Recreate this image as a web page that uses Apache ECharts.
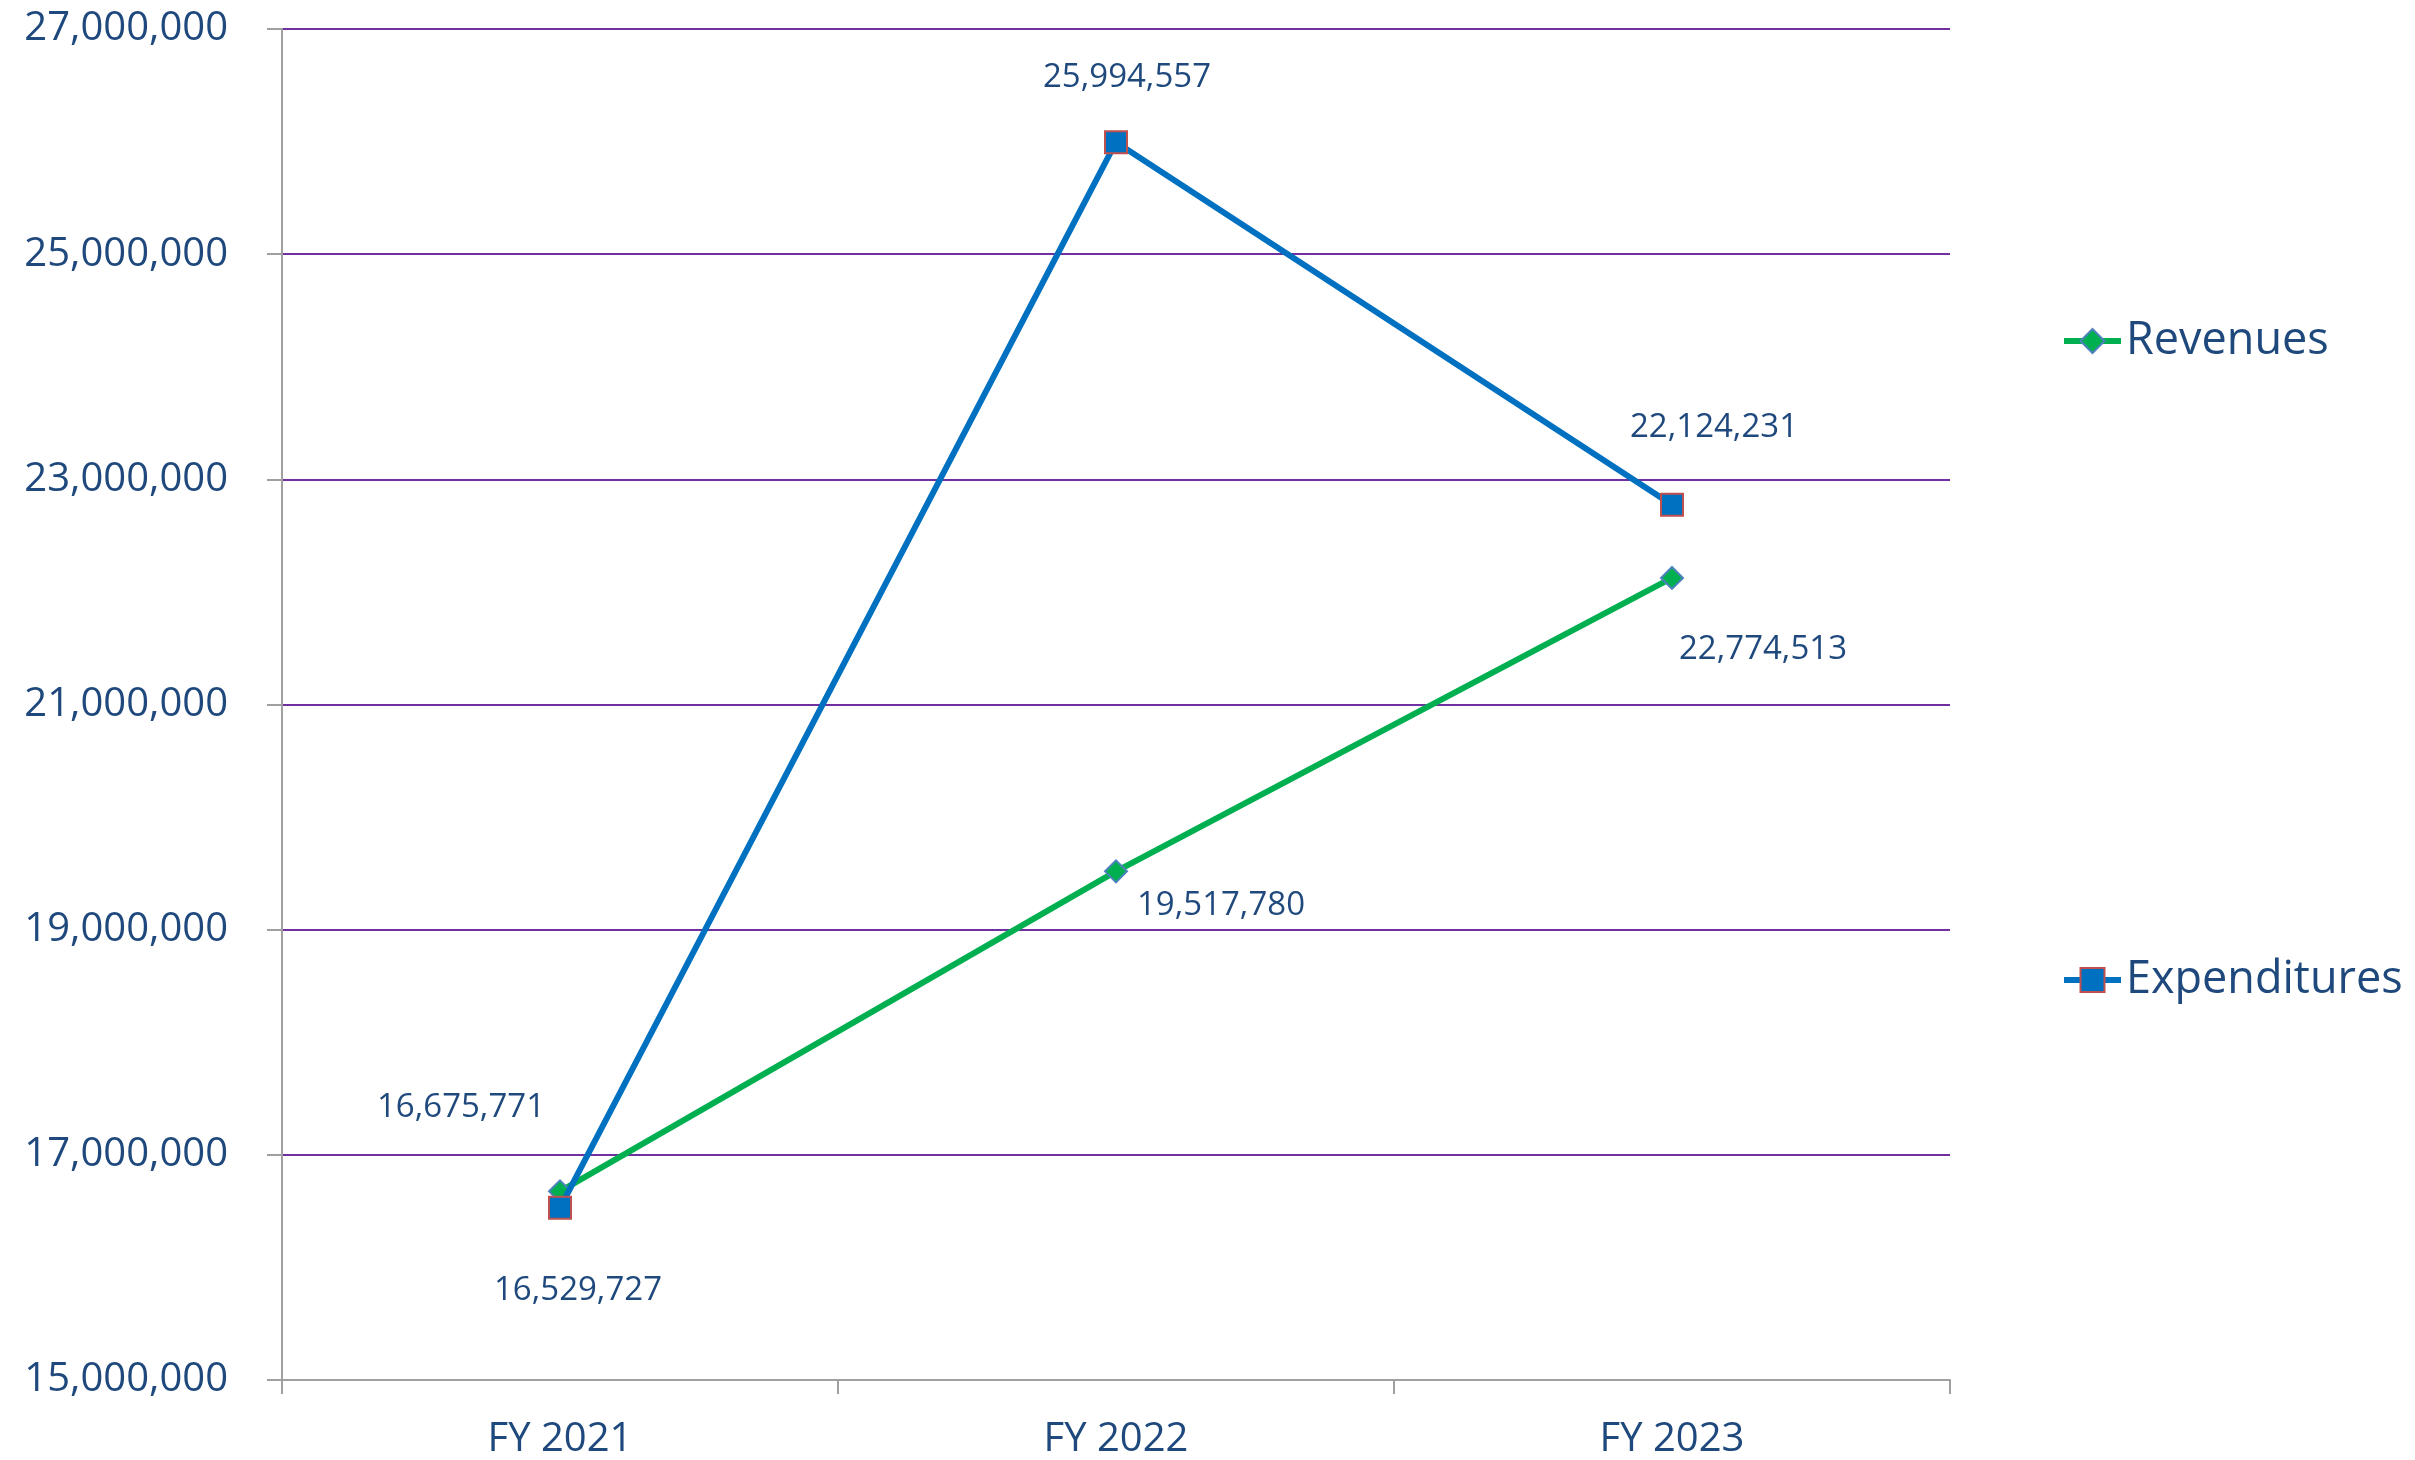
<!DOCTYPE html>
<html>
<head>
<meta charset="utf-8">
<script src="https://cdn.jsdelivr.net/npm/echarts@6/dist/echarts.min.js"></script>
<style>
html,body{margin:0;padding:0;background:#fff;}
#chart{width:2415px;height:1460px;}
</style>
</head>
<body>
<div id="chart"></div>
<script>
var categories = ['FY 2021', 'FY 2022', 'FY 2023'];
var revenues = [16675771, 19517780, 22124231];
var expenditures = [16529727, 25994557, 22774513];
var yMin = 15000000;
var yMax = 27000000;
var yInterval = 2000000;

var revLabelOffsets = [[-99, -84], [105, 34], [42, -150]];
var expLabelOffsets = [[18, 83], [11, -65], [91, 145]];

var textColor = '#1F497D';
var fontFamily = '"Open Sans", "DejaVu Sans", sans-serif';

function fmt(v) {
  return String(v).replace(/\B(?=(\d{3})+(?!\d))/g, ',');
}

function buildData(values, offsets) {
  return values.map(function (v, i) {
    return { value: v, label: { offset: offsets[i] } };
  });
}

var chart = echarts.init(document.getElementById('chart'), null, { renderer: 'canvas' });

var labelBase = {
  show: true,
  position: 'inside',
  align: 'center',
  verticalAlign: 'middle',
  color: textColor,
  fontSize: 33,
  fontFamily: fontFamily,
  formatter: function (p) { return fmt(p.value); }
};

var legendText = { color: textColor, fontSize: 45, fontFamily: fontFamily, lineHeight: 50 };

chart.setOption({
  animation: false,
  backgroundColor: '#ffffff',
  grid: { left: 282, right: 465, top: 29, bottom: 79, containLabel: false },
  legend: [
    { data: ['Revenues'], orient: 'vertical', left: 2061, top: 316, padding: 0,
      itemWidth: 57, itemHeight: 30, textStyle: legendText, selectedMode: false,
      lineStyle: { width: 6 } },
    { data: ['Expenditures'], orient: 'vertical', left: 2061, top: 955, padding: 0,
      itemWidth: 57, itemHeight: 30, textStyle: legendText, selectedMode: false,
      lineStyle: { width: 6 } }
  ],
  xAxis: {
    type: 'category',
    data: categories,
    boundaryGap: true,
    axisLine: { show: true, lineStyle: { color: '#A0A0A0', width: 2 } },
    axisTick: { show: true, alignWithLabel: false, length: 14, lineStyle: { color: '#A0A0A0', width: 2 } },
    axisLabel: { color: textColor, fontSize: 40, fontFamily: fontFamily, margin: 40, interval: 0 },
    splitLine: { show: false }
  },
  yAxis: {
    type: 'value',
    min: yMin,
    max: yMax,
    interval: yInterval,
    axisLine: { show: true, lineStyle: { color: '#A0A0A0', width: 2 } },
    axisTick: { show: true, length: 15, lineStyle: { color: '#A0A0A0', width: 2 } },
    axisLabel: { color: textColor, fontSize: 40, fontFamily: fontFamily, margin: 54,
      padding: [10, 0, 0, 0],
      formatter: function (v) { return fmt(v); } },
    splitLine: { show: true, lineStyle: { color: '#7030A0', width: 2 } }
  },
  series: [
    {
      name: 'Revenues',
      type: 'line',
      data: buildData(revenues, revLabelOffsets),
      symbol: 'diamond',
      symbolSize: 22,
      lineStyle: { color: '#00B050', width: 6 },
      itemStyle: { color: '#00B050', borderColor: '#4F81BD', borderWidth: 2 },
      label: labelBase,
      z: 2
    },
    {
      name: 'Expenditures',
      type: 'line',
      data: buildData(expenditures, expLabelOffsets),
      symbol: 'rect',
      symbolSize: 22,
      lineStyle: { color: '#0070C0', width: 6 },
      itemStyle: { color: '#0070C0', borderColor: '#C0504D', borderWidth: 2 },
      label: labelBase,
      z: 3
    }
  ]
});
</script>
</body>
</html>
